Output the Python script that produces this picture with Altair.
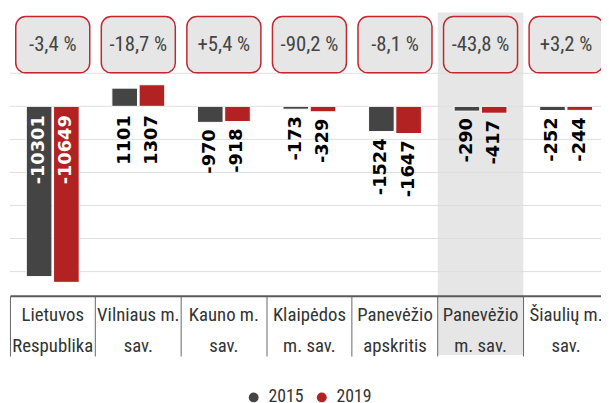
import altair as alt
import pandas as pd

categories = ["Lietuvos|Respublika", "Vilniaus m.|sav.", "Kauno m.|sav.", "Klaipėdos|m. sav.",
              "Panevėžio|apskritis", "Panevėžio|m. sav.", "Šiaulių m.|sav."]
v2015 = [-10301, 1101, -970, -173, -1524, -290, -252]
v2019 = [-10649, 1307, -918, -329, -1647, -417, -244]
changes = ["-3,4 %", "-18,7 %", "+5,4 %", "-90,2 %", "-8,1 %", "-43,8 %", "+3,2 %"]
highlight = ["Panevėžio|m. sav."]
grid_values = [2000, 0, -2000, -4000, -6000, -8000, -10000]
years = ["2015", "2019"]
colors = ["#444444", "#b22222"]

rows = []
for c, a, b in zip(categories, v2015, v2019):
    for y, v in zip(years, [a, b]):
        inside = v > 0 or v < -5000
        rows.append({"cat": c, "year": y, "v": v, "lab": str(v),
                     "anchor": 0 if inside else v,
                     "inside": inside,
                     "tc": "#ffffff" if v < -5000 else "#000000"})
df = pd.DataFrame(rows)
boxes = pd.DataFrame({"cat": categories, "txt": changes})
hl = pd.DataFrame({"cat": highlight})
grid = pd.DataFrame({"g": grid_values})

x_enc = alt.X("cat:N", sort=categories,
              scale=alt.Scale(range=[0, 607], paddingInner=0, paddingOuter=0),
              axis=alt.Axis(title=None, labelAngle=0, labelExpr="split(datum.label, '|')",
                            labelFont="Roboto Condensed", labelFontSize=19, labelLineHeight=31,
                            labelColor="#333333", labelBaseline="top", labelPadding=-51,
                            labelLimit=200, labelOverlap=False,
                            bandPosition=0, tickSize=61, tickColor="#666666", tickWidth=1,
                            domainColor="#5a5a5a", domainWidth=2, zindex=1))
y_scale = alt.Scale(domain=[-11463, 5672], nice=False, zero=False)
xo = alt.XOffset("year:N", sort=years, scale=alt.Scale(paddingInner=0.06, paddingOuter=0.6))

hl_layer = alt.Chart(hl).mark_rect(fill="#e6e6e6").encode(
    x=x_enc, y=alt.value(0), y2=alt.value(347))

grid_layer = alt.Chart(grid).mark_rule(color="#dddddd", strokeWidth=1).encode(
    y=alt.Y("g:Q", scale=y_scale, axis=None))

bars = alt.Chart(df).mark_bar(stroke="white", strokeWidth=1).encode(
    x=x_enc, xOffset=xo,
    y=alt.Y("v:Q", scale=y_scale, axis=None),
    color=alt.Color("year:N", scale=alt.Scale(domain=years, range=colors),
                    legend=alt.Legend(orient="none", legendX=238, legendY=381, direction="horizontal",
                                      title=None, symbolType="circle", symbolSize=100,
                                      symbolStrokeWidth=0, labelFont="Roboto Condensed",
                                      labelFontSize=18, labelColor="#333333", labelOffset=6,
                                      columnPadding=9, padding=0)))

txt_out = alt.Chart(df).transform_filter("!datum.inside").mark_text(
    angle=270, align="right", baseline="middle", dx=-7, font="DejaVu Sans", fontWeight="bold",
    fontSize=18).encode(
    x=x_enc, xOffset=xo, y=alt.Y("anchor:Q", scale=y_scale, axis=None),
    text="lab:N", color=alt.Color("tc:N", scale=None))

txt_in = alt.Chart(df).transform_filter("datum.inside").mark_text(
    angle=270, align="right", baseline="middle", dx=-9, font="DejaVu Sans", fontWeight="bold",
    fontSize=18).encode(
    x=x_enc, xOffset=xo, y=alt.Y("anchor:Q", scale=y_scale, axis=None),
    text="lab:N", color=alt.Color("tc:N", scale=None))

box_layer = alt.Chart(boxes).mark_bar(size=75, cornerRadius=10, fill="#e6e6e6",
                                      stroke="#c1272d", strokeWidth=1.5).encode(
    x=x_enc, y=alt.value(4), y2=alt.value(61))

box_txt = alt.Chart(boxes).mark_text(font="Roboto Condensed", fontSize=21, color="#444444",
                                     baseline="middle").encode(
    x=x_enc, y=alt.value(32.5), text="txt:N")

chart = alt.layer(hl_layer, grid_layer, bars, txt_out, txt_in, box_layer, box_txt).properties(
    width=599, height=287,
    padding={"left": 2, "top": 2, "right": 0, "bottom": 106},
    autosize=alt.AutoSizeParams(type="none"),
).configure_view(stroke=None)

chart.save("out.html", embed_options={"renderer": "svg", "actions": False})
